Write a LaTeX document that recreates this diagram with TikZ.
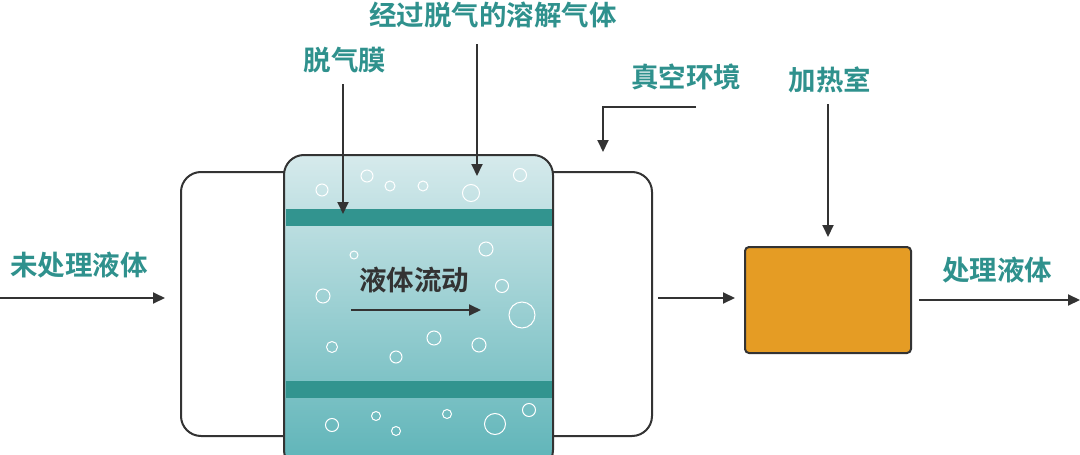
\documentclass[tikz,border=0pt]{standalone}
\usepackage{fontspec}
\newfontfamily\cjk[BoldFont={Noto Sans CJK SC Bold}]{Noto Sans CJK SC}
\usepackage{xcolor}
\usetikzlibrary{arrows.meta}

\definecolor{labelteal}{HTML}{2F918D}
\definecolor{linedark}{HTML}{333333}
\definecolor{bandteal}{HTML}{32948F}
\definecolor{tanktop}{HTML}{D6EAEC}
\definecolor{tankbottom}{HTML}{5CB3B7}
\definecolor{heaterorange}{HTML}{E59C24}

\begin{document}
\begin{tikzpicture}[x=1pt, y=-1pt, line width=2pt,
    lbl/.style={text=labelteal, font=\cjk\bfseries\fontsize{27.5}{30}\selectfont, inner sep=0pt},
    arr/.style={draw=linedark, -{Triangle[length=12pt,width=11pt]}}]

      \useasboundingbox (0,0) rectangle (1080,455);

      % side loops
      \draw[linedark, rounded corners=20] (284,172) -- (181,172) -- (181,436) -- (284,436);
      \draw[linedark, rounded corners=20] (553,172) -- (652,172) -- (652,436) -- (553,436);

      % tank
      \shade[top color=tanktop, bottom color=tankbottom, rounded corners=20] (284,155) rectangle (553,470);
      \fill[bandteal] (286,209) rectangle (552,226);
      \fill[bandteal] (286,381) rectangle (552,398);
      \draw[linedark, rounded corners=20] (284,155) rectangle (553,470);

      \foreach \x/\y/\r in {322/190/6, 367/176/6, 390/186/5, 423/186/5, 471/193/8.5, 520/175/6.5,
          354/255/4, 486/249/7, 323/296/7, 502/286/6.5, 522/315/13, 332/347/5.5, 434/338/7,
          479/345/7, 396/357/6, 332/425/6.5, 376/416/4.5, 396/431/4.5, 447/414/4.5,
          495/424/10.5, 529/410/6.5}
        \draw[white, line width=1pt] (\x,\y) circle (\r);

      \node[text=linedark, font=\cjk\bfseries\fontsize{27.5}{30}\selectfont, inner sep=0pt] (flowtext) at (414,280) {液体流动};
      \coordinate (flowS) at (351,310);
      \coordinate (flowE) at (481,310);
      \draw[arr] (flowS) -- (flowE);

      % heater
      \node[draw=linedark, fill=heaterorange, rounded corners=4, minimum width=166pt, minimum height=106pt] (heater) at (828,300) {};

      % labels
      \node[lbl] (inlabel) at (79,265) {未处理液体};
      \node[lbl] (outlabel) at (997,270) {处理液体};
      \node[lbl] (memlabel) at (345,60) {脱气膜};
      \node[lbl] (gaslabel) at (493,15) {经过脱气的溶解气体};
      \node[lbl] (vaclabel) at (686,77) {真空环境};
      \node[lbl] (heatlabel) at (830,80) {加热室};

      % connectors
      \coordinate (inS) at (0,298);
      \coordinate (inE) at (165,298);
      \draw[arr] (inS) -- (inE);

      \coordinate (midS) at (658,298);
      \coordinate (midE) at (735,298);
      \draw[arr] (midS) -- (midE);

      \coordinate (outS) at (919,300);
      \coordinate (outE) at (1080,300);
      \draw[arr] (outS) -- (outE);

      \coordinate (memS) at (343,84);
      \coordinate (memE) at (343,214);
      \draw[arr] (memS) -- (memE);

      \coordinate (gasS) at (477,44);
      \coordinate (gasE) at (477,176);
      \draw[arr] (gasS) -- (gasE);

      \coordinate (vacS) at (696,107);
      \coordinate (vacE) at (603,152);
      \draw[arr] (vacS) -| (vacE);

      \coordinate (heatS) at (828,104);
      \coordinate (heatE) at (828,237);
      \draw[arr] (heatS) -- (heatE);
    \end{tikzpicture}
\end{document}
